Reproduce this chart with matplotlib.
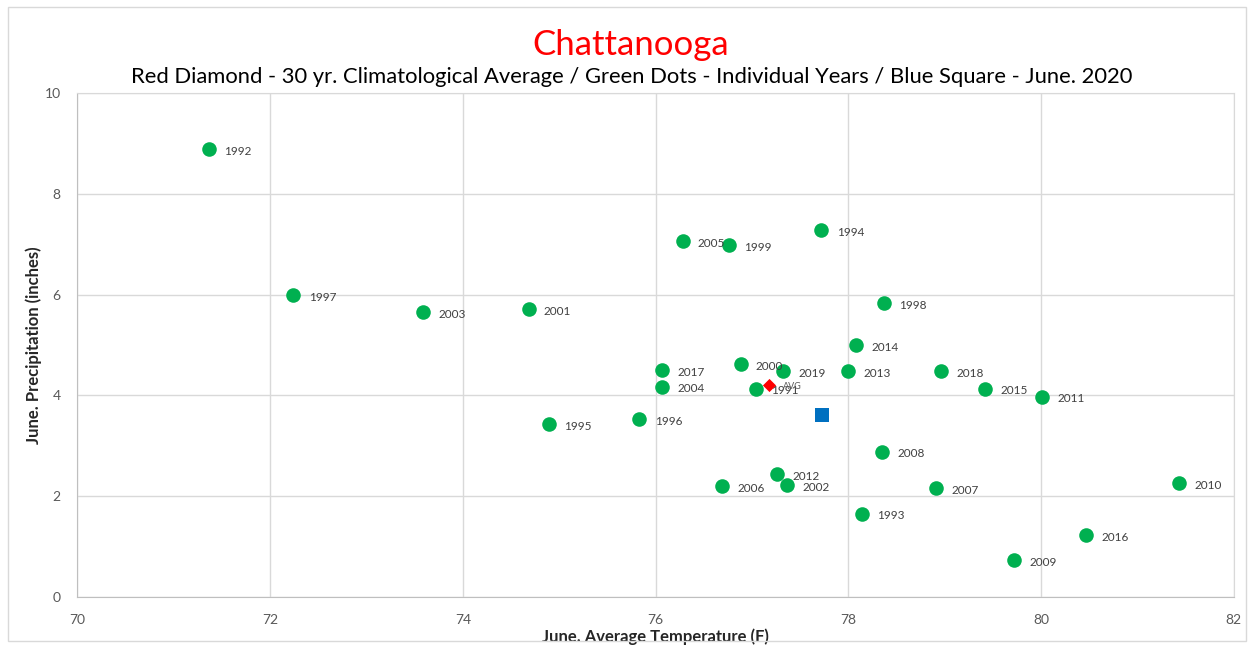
import matplotlib
matplotlib.use("Agg")
import matplotlib.pyplot as plt
from matplotlib.patches import Rectangle

plt.rcParams['font.family'] = ['Lato', 'DejaVu Sans']

years = [1991, 1992, 1993, 1994, 1995, 1996, 1997, 1998, 1999, 2000,
         2001, 2002, 2003, 2004, 2005, 2006, 2007, 2008, 2009, 2010,
         2011, 2012, 2013, 2014, 2015, 2016, 2017, 2018, 2019]
temps = [77.04, 71.36, 78.14, 77.72, 74.89, 75.83, 72.24, 78.37, 76.76, 76.88,
         74.68, 77.36, 73.59, 76.07, 76.28, 76.69, 78.91, 78.35, 79.72, 81.43,
         80.01, 77.26, 78.00, 78.08, 79.42, 80.47, 76.07, 78.96, 77.32]
precip = [4.13, 8.89, 1.65, 7.28, 3.43, 3.53, 5.99, 5.83, 6.98, 4.62,
          5.71, 2.22, 5.65, 4.17, 7.06, 2.20, 2.16, 2.88, 0.73, 2.26,
          3.97, 2.44, 4.48, 5.00, 4.13, 1.23, 4.50, 4.48, 4.48]

avg_temp, avg_precip = 77.18, 4.21
cur_temp, cur_precip = 77.73, 3.61

fig = plt.figure(figsize=(12.54, 6.48), dpi=100)
ax = fig.add_axes([0.0618, 0.0787, 0.9222, 0.7778])

# outer chart border
fig.patches.append(Rectangle((8 / 1254, 7 / 648), 1238 / 1254, 634 / 648,
                             transform=fig.transFigure, fill=False,
                             edgecolor='#D9D9D9', linewidth=1))

ax.scatter(temps, precip, s=110, color='#00B050', zorder=3, linewidths=0)
for yr, t, p in zip(years, temps, precip):
    ax.annotate(str(yr), (t, p), xytext=(11, -1.5), textcoords='offset points',
                fontsize=8.5, color='#404040', va='center', ha='left')

ax.scatter([avg_temp], [avg_precip], marker='D', s=45, color='#FF0000', zorder=4, linewidths=0)
ax.annotate('AVG', (avg_temp, avg_precip), xytext=(10, -1), textcoords='offset points',
            fontsize=6.5, color='#595959', va='center', ha='left')
ax.scatter([cur_temp], [cur_precip], marker='s', s=110, color='#0070C0', zorder=4, linewidths=0)

ax.set_xlim(70, 82)
ax.set_ylim(0, 10)
ax.set_xticks(range(70, 83, 2))
ax.set_yticks(range(0, 11, 2))
ax.grid(True, color='#D9D9D9', linewidth=1)
ax.set_axisbelow(True)
for side in ['top', 'right']:
    ax.spines[side].set_color('#D9D9D9')
for side in ['left', 'bottom']:
    ax.spines[side].set_color('#BFBFBF')
ax.tick_params(length=0, labelsize=10, labelcolor='#595959')
ax.tick_params(axis='x', pad=12)
ax.tick_params(axis='y', pad=12)

ax.set_xlabel('June. Average Temperature (F)', fontsize=12, fontweight='bold', color='#262626', labelpad=2)
ax.set_ylabel('June. Precipitation (inches)', fontsize=12, fontweight='bold', color='#262626', labelpad=2)

fig.text(0.503, 0.930, 'Chattanooga', fontsize=25, color='#FF0000', ha='center', va='center')
fig.text(0.504, 0.881, 'Red Diamond - 30 yr. Climatological Average / Green Dots - Individual Years / Blue Square - June. 2020',
         fontsize=15.8, color='#000000', ha='center', va='center')

fig.savefig('out.png', dpi=100)
